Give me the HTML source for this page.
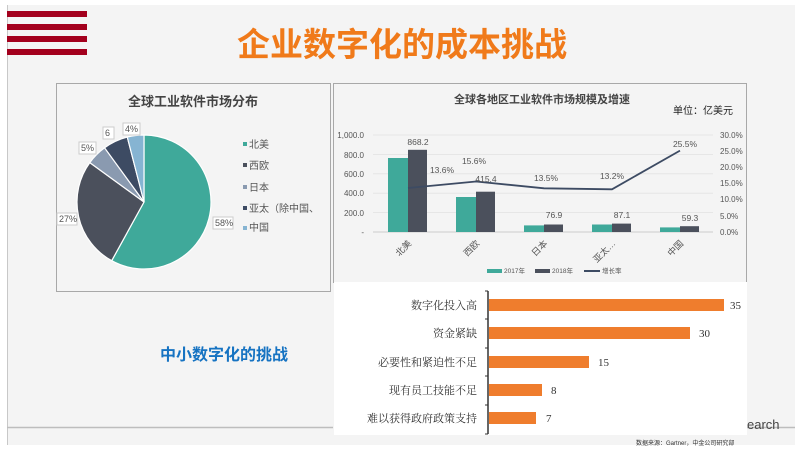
<!DOCTYPE html>
<html><head><meta charset="utf-8"><style>
body{margin:0;background:#fff;width:795px;height:450px;overflow:hidden;font-family:"Liberation Sans","Noto Sans CJK SC",sans-serif}
</style></head><body>
<svg width="795" height="450" viewBox="0 0 795 450" xmlns="http://www.w3.org/2000/svg" font-family="Liberation Sans, Noto Sans CJK SC, sans-serif">
<rect x="7" y="5" width="788" height="440" fill="#f4f4f4"/>
<line x1="7.5" y1="5" x2="7.5" y2="445" stroke="#c8c8c8"/>
<line x1="7" y1="427.5" x2="333" y2="427.5" stroke="#bdbdbd" stroke-width="1.5"/>
<line x1="747" y1="427.5" x2="795" y2="427.5" stroke="#bdbdbd" stroke-width="1.5"/>
<g fill="#a3001d"><rect x="7" y="11" width="80" height="6"/><rect x="7" y="24" width="80" height="6"/><rect x="7" y="36" width="80" height="6"/><rect x="7" y="49" width="80" height="6"/></g>
<text x="402" y="56" text-anchor="middle" font-size="33" font-weight="bold" fill="#f07a1a">企业数字化的成本挑战</text>
<rect x="56.5" y="83.5" width="274" height="208" fill="#f4f4f4" stroke="#a8a8a8"/>
<text x="193" y="106" text-anchor="middle" font-size="13" font-weight="bold" fill="#444">全球工业软件市场分布</text>
<g stroke="#fff" stroke-width="1.2">
<path d="M144,202 L144,135 A67,67 0 1 1 111.7,260.7 Z" fill="#3fa99a"/>
<path d="M144,202 L111.7,260.7 A67,67 0 0 1 89.8,162.6 Z" fill="#4b505c"/>
<path d="M144,202 L89.8,162.6 A67,67 0 0 1 104.6,147.8 Z" fill="#8a9ab0"/>
<path d="M144,202 L104.6,147.8 A67,67 0 0 1 127.3,137.1 Z" fill="#3d4b63"/>
<path d="M144,202 L127.3,137.1 A67,67 0 0 1 144,135 Z" fill="#86b4d2"/>
</g>
<g font-size="9" fill="#555">
<rect x="213" y="217" width="20" height="12" fill="#fff" stroke="#ccc"/><text x="215" y="226">58%</text>
<rect x="57" y="213" width="20" height="12" fill="#fff" stroke="#ccc"/><text x="59" y="222">27%</text>
<rect x="79" y="142" width="17" height="12" fill="#fff" stroke="#ccc"/><text x="81" y="151">5%</text>
<rect x="103" y="127" width="11" height="12" fill="#fff" stroke="#ccc"/><text x="105" y="136">6</text>
<rect x="123" y="123" width="17" height="12" fill="#fff" stroke="#ccc"/><text x="125" y="132">4%</text>
</g>
<g font-size="10" fill="#555">
<rect x="243" y="142" width="4" height="4" fill="#3fa99a"/><text x="249" y="148">北美</text>
<rect x="243" y="163" width="4" height="4" fill="#4b505c"/><text x="249" y="169">西欧</text>
<rect x="243" y="185" width="4" height="4" fill="#8a9ab0"/><text x="249" y="191">日本</text>
<rect x="243" y="206" width="4" height="4" fill="#3d4b63"/><text x="249" y="212">亚太（除中国、</text>
<rect x="243" y="226" width="4" height="4" fill="#86b4d2"/><text x="249" y="231">中国</text>
</g>
<rect x="333.5" y="83.5" width="413" height="199" fill="#f4f4f4" stroke="#a8a8a8"/>
<rect x="334" y="282" width="413" height="153" fill="#fff"/>
<text x="542" y="103" text-anchor="middle" font-size="11" font-weight="bold" fill="#444">全球各地区工业软件市场规模及增速</text>
<text x="673" y="114" font-size="10" fill="#222">单位：亿美元</text>
<g stroke="#e2e2e2" stroke-width="0.8">
<line x1="373" y1="135" x2="713" y2="135"/><line x1="373" y1="154.4" x2="713" y2="154.4"/><line x1="373" y1="173.8" x2="713" y2="173.8"/><line x1="373" y1="193.2" x2="713" y2="193.2"/><line x1="373" y1="212.6" x2="713" y2="212.6"/>
</g>
<line x1="373" y1="232" x2="713" y2="232" stroke="#ccc"/>
<g font-size="8" fill="#555" text-anchor="end">
<text x="364" y="138">1,000.0</text><text x="364" y="158">800.0</text><text x="364" y="177">600.0</text><text x="364" y="196">400.0</text><text x="364" y="216">200.0</text><text x="364" y="235">-</text>
</g>
<g font-size="8" fill="#555">
<text x="720" y="138">30.0%</text><text x="720" y="154">25.0%</text><text x="720" y="170">20.0%</text><text x="720" y="186">15.0%</text><text x="720" y="202">10.0%</text><text x="720" y="219">5.0%</text><text x="720" y="235">0.0%</text>
</g>
<g fill="#3fa99a">
<rect x="388" y="158" width="20" height="74"/><rect x="456" y="197" width="20" height="35"/><rect x="524" y="225.4" width="20" height="6.6"/><rect x="592" y="224.5" width="20" height="7.5"/><rect x="660" y="227.4" width="20" height="4.6"/>
</g>
<g fill="#4b505c">
<rect x="408" y="149.8" width="19" height="82.2"/><rect x="476" y="191.7" width="19" height="40.3"/><rect x="544" y="224.5" width="19" height="7.5"/><rect x="612" y="223.6" width="19" height="8.4"/><rect x="680" y="226.2" width="19" height="5.8"/>
</g>
<polyline points="408,188 476,181.5 544,188.3 612,189.3 680,150.6" fill="none" stroke="#3d4b63" stroke-width="1.8"/>
<g font-size="8.5" fill="#555" text-anchor="middle">
<text x="418" y="145">868.2</text><text x="486" y="182">415.4</text><text x="554" y="218">76.9</text><text x="622" y="218">87.1</text><text x="690" y="221">59.3</text>
<text x="442" y="173">13.6%</text><text x="474" y="164">15.6%</text><text x="546" y="181">13.5%</text><text x="612" y="179">13.2%</text><text x="685" y="147">25.5%</text>
</g>
<g font-size="9" fill="#555" text-anchor="end">
<text transform="translate(412,244) rotate(-45)">北美</text>
<text transform="translate(480,244) rotate(-45)">西欧</text>
<text transform="translate(548,244) rotate(-45)">日本</text>
<text transform="translate(616,244) rotate(-45)">亚太…</text>
<text transform="translate(684,244) rotate(-45)">中国</text>
</g>
<g font-size="6.5" fill="#555">
<rect x="487" y="269" width="15" height="4" fill="#3fa99a"/><text x="504" y="273">2017年</text>
<rect x="535" y="269" width="15" height="4" fill="#4b505c"/><text x="552" y="273">2018年</text>
<line x1="584" y1="271" x2="600" y2="271" stroke="#3d4b63" stroke-width="2"/><text x="602" y="273">增长率</text>
</g>
<line x1="488" y1="291" x2="488" y2="434" stroke="#333" stroke-width="1.5"/>
<g stroke="#333"><line x1="485" y1="291" x2="488" y2="291"/><line x1="485" y1="319" x2="488" y2="319"/><line x1="485" y1="348" x2="488" y2="348"/><line x1="485" y1="376" x2="488" y2="376"/><line x1="485" y1="405" x2="488" y2="405"/><line x1="485" y1="434" x2="488" y2="434"/></g>
<g fill="#ef7d2d">
<rect x="489" y="299" width="235" height="12"/><rect x="489" y="327" width="201" height="12"/><rect x="489" y="356" width="100" height="12"/><rect x="489" y="384" width="53" height="12"/><rect x="489" y="412" width="47" height="12"/>
</g>
<g font-family="Liberation Serif, Noto Serif CJK SC, serif" font-size="11" fill="#333">
<g text-anchor="end">
<text x="477" y="309">数字化投入高</text><text x="477" y="337">资金紧缺</text><text x="477" y="366">必要性和紧迫性不足</text><text x="477" y="394">现有员工技能不足</text><text x="477" y="422">难以获得政府政策支持</text>
</g>
<text x="730" y="309">35</text><text x="699" y="337">30</text><text x="598" y="366">15</text><text x="551" y="394">8</text><text x="546" y="422">7</text>
</g>
<text x="747" y="429" font-size="13" fill="#444">earch</text>
<text x="636" y="445" font-size="6" fill="#333">数据来源：Gartner，中金公司研究部</text>
<text x="160" y="360" font-size="16" font-weight="bold" fill="#1673c2">中小数字化的挑战</text>
</svg>
</body></html>
